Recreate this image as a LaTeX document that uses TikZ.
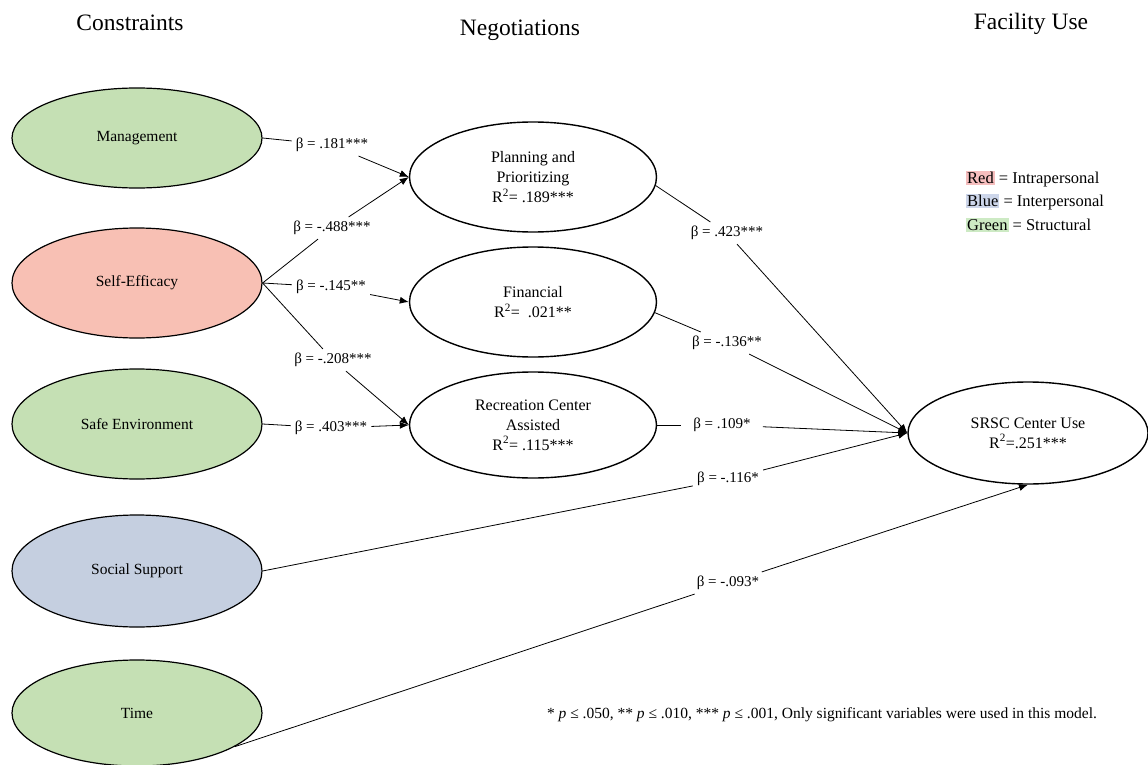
\documentclass[tikz,border=0pt]{standalone}
\usepackage{fontspec}
\setmainfont{Liberation Serif}
\usetikzlibrary{shapes.geometric,arrows.meta}
\definecolor{cgreen}{RGB}{197,224,180}
\definecolor{cred}{RGB}{248,192,180}
\definecolor{cblue}{RGB}{197,207,224}
\definecolor{hred}{RGB}{246,190,190}
\definecolor{hblue}{RGB}{205,214,234}
\definecolor{hgreen}{RGB}{205,234,196}
\tikzset{
  cons/.style={ellipse, draw, line width=1.2pt, minimum width=250pt, inner sep=0pt, font=\fontsize{15.5}{18}\selectfont},
  nego/.style={ellipse, draw, line width=1.4pt, fill=white, minimum width=247pt, minimum height=110pt, inner sep=0pt, align=center, font=\fontsize{16}{20}\selectfont},
  coef/.style={inner sep=4pt, font=\fontsize{15}{17}\selectfont},
  ttl/.style={font=\fontsize{23.5}{27}\selectfont},
  lgd/.style={anchor=west, inner sep=0pt, font=\fontsize{16.5}{19}\selectfont},
  link/.style={line width=0.8pt},
  arr/.style={line width=0.8pt, -{Latex[length=9pt,width=7pt]}},
}
\newcommand{\hlbox}[2]{{\setlength{\fboxsep}{1pt}\colorbox{#1}{#2}}}
\begin{document}
\begin{tikzpicture}[x=1pt,y=-1pt]
\useasboundingbox (0,0) rectangle (1148,765);
% titles
\node[ttl] (tc) at (130,23) {Constraints};
\node[ttl] (tn) at (520,30) {Negotiations};
\node[ttl] (tf) at (1031,24) {Facility Use};
% constraints
\node[cons, fill=cgreen, minimum height=100pt] (M) at (137,138) {Management};
\node[cons, fill=cred, minimum height=110pt] (S) at (137,283) {Self-Efficacy};
\node[cons, fill=cgreen, minimum height=110pt] (SE) at (137,424) {Safe Environment};
\node[cons, fill=cblue, minimum height=112pt] (SS) at (137,571) {Social Support};
\node[cons, fill=cgreen, minimum height=106pt] (T) at (137,713) {Time};
% negotiations
\node[nego] (P) at (533,177) {Planning and\\Prioritizing\\R\textsuperscript{2}= .189***};
\node[nego] (F) at (533,302) {Financial\\R\textsuperscript{2}=\ \ .021**};
\node[nego, minimum height=106pt] (R) at (533,425) {Recreation Center\\Assisted\\R\textsuperscript{2}= .115***};
% outcome
\node[nego, minimum width=240pt, minimum height=102pt] (U) at (1028,433) {SRSC Center Use\\R\textsuperscript{2}=.251***};
% coefficients
\node[coef] (b1) at (332,145) {β = .181***};
\node[coef] (b2) at (332,228) {β = -.488***};
\node[coef] (b3) at (331,287) {β = -.145**};
\node[coef] (b4) at (333,360) {β = -.208***};
\node[coef] (b5) at (331,428) {β = .403***};
\node[coef] (b6) at (727,233) {β = .423***};
\node[coef] (b7) at (727,343) {β = -.136**};
\node[coef, inner xsep=12pt] (b8) at (722,425) {β = .109*};
\node[coef] (b9) at (728,479) {β = -.116*};
\node[coef] (b10) at (728,583) {β = -.093*};
% connectors
\draw[link] (M.east) -- (b1);
\draw[arr] (b1) -- (P.west);
\draw[link] (S.east) -- (b2);
\draw[arr] (b2) -- (P.west);
\draw[link] (S.east) -- (b3);
\draw[arr] (b3) -- (F.west);
\draw[link] (S.east) -- (b4);
\draw[arr] (b4) -- (R.west);
\draw[link] (SE.east) -- (b5);
\draw[arr] (b5) -- (R.west);
\draw[link] (P.-4) -- (b6);
\draw[arr] (b6) -- (U.west);
\draw[link] (F.-5) -- (b7);
\draw[arr] (b7) -- (U.west);
\draw[link] (R.east) -- (b8);
\draw[arr] (b8) -- (U.west);
\draw[link] (SS.east) -- (b9);
\draw[arr] (b9) -- (U.west);
\draw[link] (T.-19) -- (b10);
\draw[arr] (b10) -- (U.south);
% legend
\node[lgd] (l1) at (966,179) {\hlbox{hred}{Red} = Intrapersonal};
\node[lgd] (l2) at (966,202) {\hlbox{hblue}{Blue} = Interpersonal};
\node[lgd] (l3) at (966,225) {\hlbox{hgreen}{Green} = Structural};
% footnote
\node[font=\fontsize{15.5}{18}\selectfont] (fn) at (822,715) {* \textit{p} ≤ .050, ** \textit{p} ≤ .010, *** \textit{p} ≤ .001, Only significant variables were used in this model.};
\end{tikzpicture}
\end{document}
